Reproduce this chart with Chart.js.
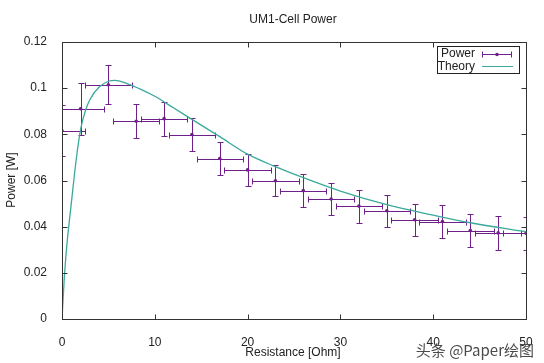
<!DOCTYPE html>
<html>
<head>
<meta charset="utf-8">
<script src="https://cdn.jsdelivr.net/npm/chart.js@4"></script>
<style>
    html, body { margin: 0; padding: 0; background: #fff; }
    #wrap { width: 544px; height: 363px; position: relative; }
</style>
</head>
<body>
<div id="wrap"><canvas id="powerChart"></canvas></div>
<script>
// measured points (resistance in Ohm, power in W)
const resistance = [0, 2, 5, 8, 11, 14, 17, 20, 23, 26, 29, 32, 35, 38, 41, 44, 47, 50];
const power = [0.0815, 0.0911, 0.1015, 0.0857, 0.0868, 0.0799, 0.0695, 0.0646, 0.0599,
               0.0556, 0.0520, 0.0489, 0.0469, 0.0430, 0.0422, 0.0383, 0.0373, 0.0372];
const resistanceErr = [2.5, 2.5, 2.5, 2.5, 2.5, 2.5, 2.5, 2.5, 2.5, 2.5, 2.5, 2.5, 2.5, 2.5, 2.5, 2.5, 2.5, 2.5];
const powerErr = [0.011, 0.0112, 0.0085, 0.0073, 0.0074, 0.0070, 0.0071, 0.0068, 0.0066,
                  0.0070, 0.0070, 0.0071, 0.0069, 0.0070, 0.0071, 0.0072, 0.0072, 0.0072];

// theory curve
const theoryR = [0, 0.25, 0.5, 0.75, 1, 1.5, 2, 2.5, 3, 4, 5, 5.7, 7, 8.5, 10, 12, 14, 17, 20, 23, 26, 30, 35, 40, 44, 50];
const theoryP = [0, 0.018, 0.031, 0.041, 0.050, 0.068, 0.082, 0.090, 0.095, 0.1005, 0.1030, 0.1034, 0.1020,
                 0.0995, 0.0965, 0.0915, 0.0865, 0.0790, 0.0714, 0.0660, 0.0612, 0.0554, 0.0495, 0.0450, 0.0417, 0.0378];

const xTicks = [0, 10, 20, 30, 40, 50];
const yTicks = [0, 0.02, 0.04, 0.06, 0.08, 0.1, 0.12];

const PURPLE = '#70208a';
const TEAL = '#3aa99b';
const FONT = "'Liberation Sans', Arial, sans-serif";

// gnuplot-like error bars
const errorBars = {
    id: 'errorBars',
    beforeDatasetsDraw(chart) {
        const { ctx, chartArea: a, scales: { x, y } } = chart;
        const cap = 3;
        ctx.save();
        ctx.beginPath();
        ctx.rect(a.left, a.top, a.right - a.left, a.bottom - a.top);
        ctx.clip();
        ctx.strokeStyle = PURPLE;
        ctx.lineWidth = 1;
        ctx.beginPath();
        resistance.forEach((r, i) => {
            const px = Math.round(x.getPixelForValue(r)) + 0.5;
            const py = Math.round(y.getPixelForValue(power[i])) + 0.5;
            const x0 = Math.round(x.getPixelForValue(r - resistanceErr[i])) + 0.5;
            const x1 = Math.round(x.getPixelForValue(r + resistanceErr[i])) + 0.5;
            const y0 = Math.round(y.getPixelForValue(power[i] - powerErr[i])) + 0.5;
            const y1 = Math.round(y.getPixelForValue(power[i] + powerErr[i])) + 0.5;
            ctx.moveTo(x0, py); ctx.lineTo(x1, py);
            ctx.moveTo(x0, py - cap); ctx.lineTo(x0, py + cap);
            ctx.moveTo(x1, py - cap); ctx.lineTo(x1, py + cap);
            ctx.moveTo(px, y0); ctx.lineTo(px, y1);
            ctx.moveTo(px - cap, y0); ctx.lineTo(px + cap, y0);
            ctx.moveTo(px - cap, y1); ctx.lineTo(px + cap, y1);
        });
        ctx.stroke();
        ctx.restore();
    }
};

// border box, inward ticks, titles, key, watermark
const frame = {
    id: 'frame',
    afterDraw(chart) {
        const { ctx, chartArea: a, scales: { x, y } } = chart;
        const L = Math.round(a.left) + 0.5, R = Math.round(a.right) + 0.5;
        const T = Math.round(a.top) + 0.5, B = Math.round(a.bottom) + 0.5;
        const tl = 5;
        ctx.save();
        ctx.strokeStyle = '#333';
        ctx.lineWidth = 1;
        ctx.strokeRect(L, T, R - L, B - T);
        ctx.beginPath();
        xTicks.forEach(v => {
            const px = Math.round(x.getPixelForValue(v)) + 0.5;
            ctx.moveTo(px, B); ctx.lineTo(px, B - tl);
            ctx.moveTo(px, T); ctx.lineTo(px, T + tl);
        });
        yTicks.forEach(v => {
            const py = Math.round(y.getPixelForValue(v)) + 0.5;
            ctx.moveTo(L, py); ctx.lineTo(L + tl, py);
            ctx.moveTo(R, py); ctx.lineTo(R - tl, py);
        });
        ctx.stroke();

        ctx.fillStyle = '#222';
        ctx.font = '12px ' + FONT;
        ctx.textAlign = 'center';
        ctx.textBaseline = 'middle';
        ctx.fillText('UM1-Cell Power', 293, 20);
        ctx.fillText('Resistance [Ohm]', 293, 353);
        ctx.save();
        ctx.translate(12, 180);
        ctx.rotate(-Math.PI / 2);
        ctx.fillText('Power [W]', 0, 0);
        ctx.restore();

        // key
        ctx.strokeStyle = '#222';
        ctx.strokeRect(437.5, 46.5, 82, 27);
        ctx.textAlign = 'right';
        ctx.fillText('Power', 475, 54);
        ctx.fillText('Theory', 475, 66.5);
        ctx.strokeStyle = PURPLE;
        ctx.beginPath();
        ctx.moveTo(482, 54.5); ctx.lineTo(512, 54.5);
        ctx.moveTo(482.5, 51.5); ctx.lineTo(482.5, 57.5);
        ctx.moveTo(511.5, 51.5); ctx.lineTo(511.5, 57.5);
        ctx.stroke();
        ctx.fillStyle = PURPLE;
        ctx.beginPath();
        ctx.arc(497, 54.5, 1.8, 0, Math.PI * 2);
        ctx.fill();
        ctx.strokeStyle = TEAL;
        ctx.beginPath();
        ctx.moveTo(482, 66.5); ctx.lineTo(513, 66.5);
        ctx.stroke();

        // watermark
        ctx.fillStyle = '#4a4a4a';
        ctx.font = "15px 'Noto Sans CJK SC', sans-serif";
        ctx.textAlign = 'right';
        ctx.fillText('头条 @Paper绘图', 534, 350);
        ctx.restore();
    }
};

document.addEventListener('DOMContentLoaded', function() {
    const ctx = document.getElementById('powerChart');

    new Chart(ctx, {
        type: 'scatter',
        data: {
            datasets: [
                {
                    label: 'Theory',
                    data: theoryR.map((r, i) => ({ x: r, y: theoryP[i] })),
                    showLine: true,
                    borderColor: TEAL,
                    borderWidth: 1.3,
                    pointRadius: 0,
                    cubicInterpolationMode: 'monotone',
                    order: 0
                },
                {
                    label: 'Power',
                    data: resistance.map((r, i) => ({ x: r, y: power[i] })),
                    showLine: false,
                    backgroundColor: PURPLE,
                    borderWidth: 0,
                    pointRadius: 1.8,
                    order: 1
                }
            ]
        },
        options: {
            responsive: true,
            maintainAspectRatio: false,
            animation: false,
            devicePixelRatio: 1,
            layout: { padding: { left: 0, right: 18, top: 42, bottom: 0 } },
            scales: {
                x: {
                    type: 'linear',
                    min: 0,
                    max: 50,
                    afterFit: s => { s.height = 44; },
                    afterBuildTicks: s => { s.ticks = xTicks.map(v => ({ value: v })); },
                    grid: { display: false },
                    border: { display: false },
                    ticks: {
                        font: { family: FONT, size: 12 },
                        color: '#222',
                        padding: 8,
                        maxRotation: 0
                    }
                },
                y: {
                    type: 'linear',
                    min: 0,
                    max: 0.12,
                    afterFit: s => { s.width = 62; },
                    afterBuildTicks: s => { s.ticks = yTicks.map(v => ({ value: v })); },
                    grid: { display: false },
                    border: { display: false },
                    ticks: {
                        font: { family: FONT, size: 12 },
                        color: '#222',
                        padding: 7,
                        callback: v => String(+v.toFixed(2))
                    }
                }
            },
            plugins: {
                legend: { display: false },
                title: { display: false },
                tooltip: { enabled: false }
            }
        },
        plugins: [errorBars, frame]
    });
});
</script>
</body>
</html>
